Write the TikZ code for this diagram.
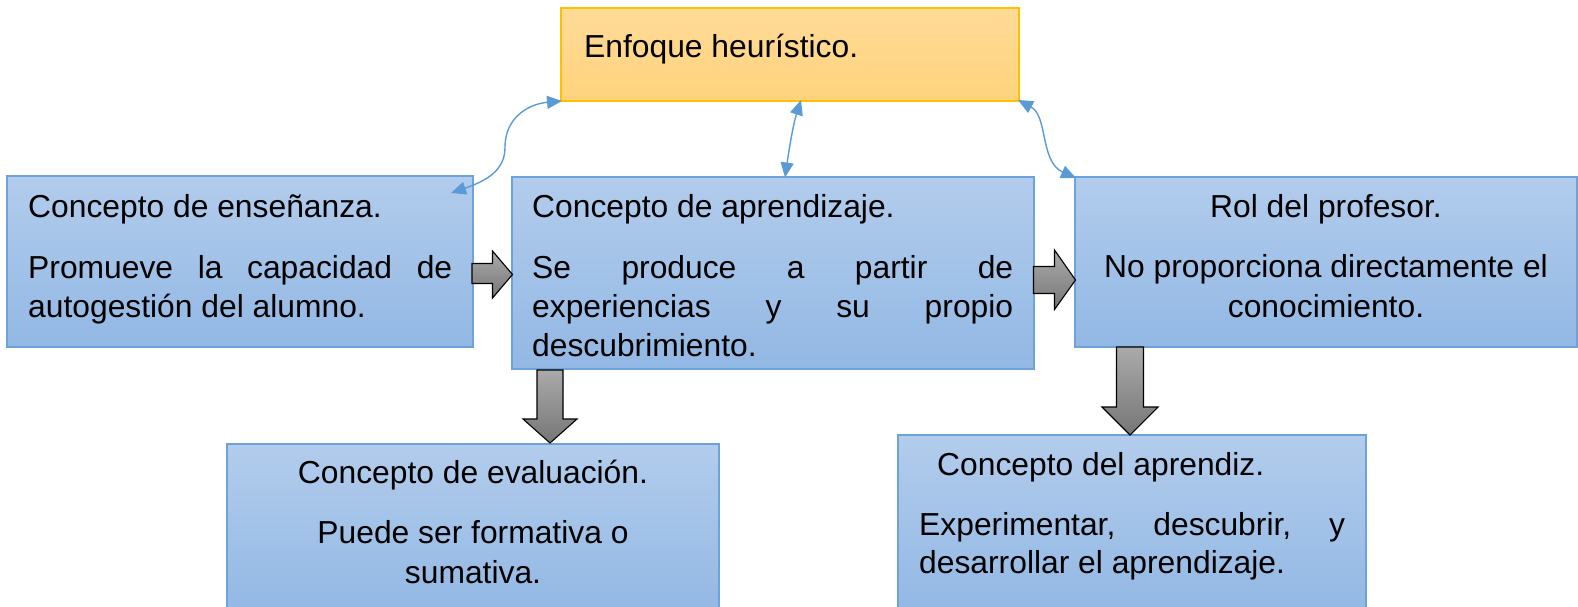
\documentclass[tikz,border=0pt]{standalone}
\usepackage{fontspec}
\setmainfont{Liberation Sans}
\usetikzlibrary{arrows.meta}
\definecolor{boxTop}{RGB}{178,204,236}
\definecolor{boxBot}{RGB}{146,184,228}
\definecolor{boxLine}{RGB}{110,162,218}
\definecolor{orTop}{RGB}{255,219,152}
\definecolor{orBot}{RGB}{255,211,124}
\definecolor{orLine}{RGB}{255,192,0}
\definecolor{linkBlue}{RGB}{91,155,213}
\definecolor{grTop}{RGB}{170,170,170}
\definecolor{grBot}{RGB}{118,118,118}
\tikzset{
  bluebox/.style={draw=boxLine, line width=1.4pt, top color=boxTop, bottom color=boxBot},
  orangebox/.style={draw=orLine, line width=1.4pt, top color=orTop, bottom color=orBot},
  txt/.style={inner sep=0pt, font=\fontsize{31.8}{39.5}\selectfont},
  blockarrow/.style={draw=black, line width=1.1pt, line join=miter, top color=grTop, bottom color=grBot},
  link/.style={draw=linkBlue, line width=1.4pt, {Triangle[length=15pt,width=13pt]}-{Triangle[length=15pt,width=13pt]}}
}
\begin{document}
\begin{tikzpicture}[x=1pt,y=-1pt]
\useasboundingbox (0,0) rectangle (1578,606);
% boxes
\path[orangebox] (561,8) rectangle (1019,101);
\node[inner sep=0pt, minimum width=458pt, minimum height=93pt] (top) at (790,54.5) {};
\path[bluebox] (7,176) rectangle (473,347);
\node[inner sep=0pt, minimum width=466pt, minimum height=171pt] (ens) at (240,261.5) {};
\path[bluebox] (512,177) rectangle (1034,369);
\node[inner sep=0pt, minimum width=522pt, minimum height=192pt] (apr) at (773,273) {};
\path[bluebox] (1075,177) rectangle (1577,347);
\node[inner sep=0pt, minimum width=502pt, minimum height=170pt] (rol) at (1326,262) {};
\path[bluebox] (227,444) rectangle (719,614);
\node[inner sep=0pt, minimum width=492pt, minimum height=170pt] (eva) at (473,529) {};
\path[bluebox] (898,435) rectangle (1366,614);
\node[inner sep=0pt, minimum width=468pt, minimum height=179pt] (apz) at (1132,524.5) {};
% texts
\node[txt, anchor=base west] (t0) at (584,57) {Enfoque heurístico.};
\node[txt, anchor=base west] (t1a) at (28,217) {Concepto de enseñanza.};
\node[txt, anchor=base west] (t1b) at (28,278) {\makebox[424pt][s]{Promueve la capacidad de}};
\node[txt, anchor=base west] (t1c) at (28,317) {autogestión del alumno.};
\node[txt, anchor=base west] (t2a) at (532,217) {Concepto de aprendizaje.};
\node[txt, anchor=base west] (t2b) at (532,278) {\makebox[481pt][s]{Se produce a partir de}};
\node[txt, anchor=base west] (t2c) at (532,317) {\makebox[481pt][s]{experiencias y su propio}};
\node[txt, anchor=base west] (t2d) at (532,356) {descubrimiento.};
\node[txt, anchor=base] (t3a) at (1326,217) {Rol del profesor.};
\node[txt, anchor=base] (t3b) at (1326,277) {No proporciona directamente el};
\node[txt, anchor=base] (t3c) at (1326,317) {conocimiento.};
\node[txt, anchor=base] (t4a) at (473,483) {Concepto de evaluación.};
\node[txt, anchor=base] (t4b) at (473,543) {Puede ser formativa o};
\node[txt, anchor=base] (t4c) at (473,583) {sumativa.};
\node[txt, anchor=base west] (t5a) at (937,475) {Concepto del aprendiz.};
\node[txt, anchor=base west] (t5b) at (919,535) {\makebox[426pt][s]{Experimentar, descubrir, y}};
\node[txt, anchor=base west] (t5c) at (919,573) {desarrollar el aprendizaje.};
% block arrows
\path[blockarrow] (472,263.5) -- (492.5,263.5) -- (492.5,251) -- (512.5,274.5) -- (492.5,298) -- (492.5,283.5) -- (472,283.5) -- cycle;
\path[blockarrow] (1033.5,266.5) -- (1054.5,266.5) -- (1054.5,250) -- (1075.5,280) -- (1054.5,309.5) -- (1054.5,293.5) -- (1033.5,293.5) -- cycle;
\path[blockarrow] (537,370) -- (563,370) -- (563,419) -- (577,419) -- (550,443) -- (523,419) -- (537,419) -- cycle;
\path[blockarrow] (1116.5,347) -- (1143.5,347) -- (1143.5,407) -- (1158,407) -- (1130,435) -- (1102,407) -- (1116.5,407) -- cycle;
% blue links
\coordinate (a1) at (451,193);
\coordinate (a2) at (562,101);
\coordinate (b1) at (801,100);
\coordinate (b2) at (785,177.5);
\coordinate (c1) at (1018,100);
\coordinate (c2) at (1076,178);
\draw[link] (a1) .. controls (495,178) and (505,165) .. (505,147) .. controls (505,118) and (528,104) .. (a2);
\draw[link] (b1) .. controls (793,125) and (789,150) .. (b2);
\draw[link] (c1) .. controls (1048,116) and (1040,162) .. (c2);
\end{tikzpicture}
\end{document}
